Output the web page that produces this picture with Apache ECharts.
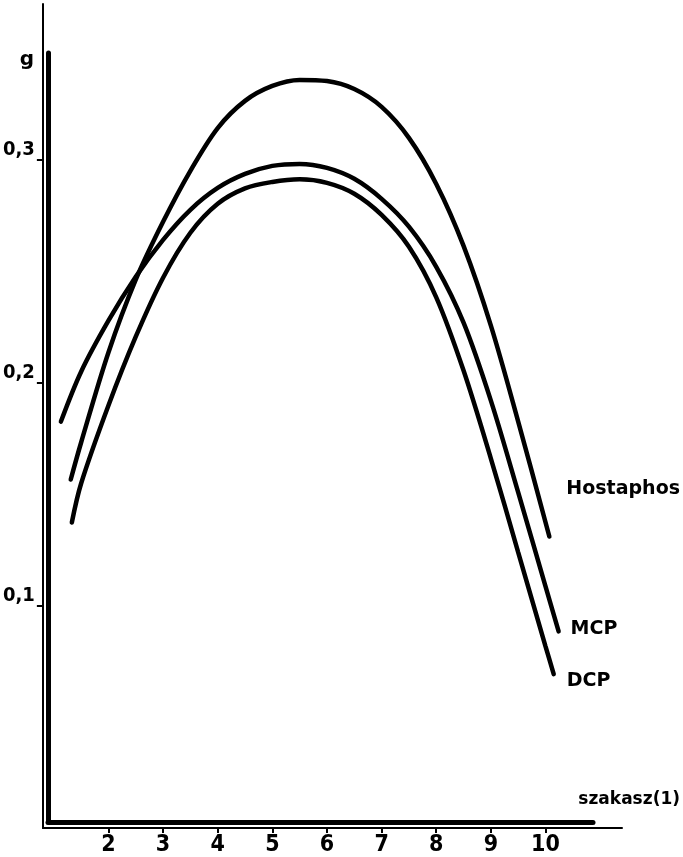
<!DOCTYPE html>
<html>
<head>
<meta charset="utf-8">
<script src="https://cdn.jsdelivr.net/npm/echarts@6/dist/echarts.min.js"></script>
<style>
  html, body { margin: 0; padding: 0; background: #fff; }
  #chart { width: 683px; height: 857px; }
</style>
</head>
<body>
<div id="chart"></div>
<script>
// ertekek a kepről leolvasva
const xTicks = [2, 3, 4, 5, 6, 7, 8, 9, 10];
const yTicks = [0.1, 0.2, 0.3];

const hostaphosX = [1.31, 1.5, 2, 2.5, 3, 3.5, 4, 4.5, 5, 5.5, 6, 6.5, 7, 7.5, 8, 8.5, 9, 9.5, 10.07];
const hostaphosY = [0.1565, 0.1731, 0.2135, 0.2462, 0.2722, 0.2951, 0.3143, 0.3265, 0.3332, 0.3359, 0.3354, 0.3318, 0.3238, 0.3099, 0.2892, 0.2614, 0.2256, 0.1825, 0.1309];

const mcpX = [1.13, 1.5, 2, 2.5, 3, 3.5, 4, 4.5, 5, 5.5, 6, 6.5, 7, 7.5, 8, 8.5, 9, 9.5, 10, 10.24];
const mcpY = [0.1825, 0.2049, 0.2278, 0.2475, 0.2641, 0.2776, 0.2874, 0.2937, 0.2973, 0.2982, 0.2964, 0.2915, 0.2825, 0.2700, 0.2520, 0.2269, 0.1919, 0.1507, 0.1085, 0.0883];

const dcpX = [1.33, 1.5, 2, 2.5, 3, 3.5, 4, 4.5, 5, 5.5, 6, 6.5, 7, 7.5, 8, 8.5, 9, 9.5, 10, 10.15];
const dcpY = [0.1372, 0.1547, 0.1897, 0.2206, 0.2471, 0.2673, 0.2803, 0.2872, 0.2901, 0.2913, 0.2897, 0.2848, 0.2753, 0.2610, 0.2383, 0.2054, 0.1659, 0.1238, 0.0816, 0.0691];

const labelFont = "'DejaVu Sans', sans-serif";
const digitFont = "'Liberation Sans Narrow', 'DejaVu Sans Condensed', 'DejaVu Sans', sans-serif";

function pairs(xs, ys) {
  return xs.map((x, i) => [x, ys[i]]);
}

function curve(name, xs, ys, offset) {
  return {
    name: name,
    type: 'line',
    xAxisIndex: 0,
    yAxisIndex: 0,
    data: pairs(xs, ys),
    smooth: 0.33,
    showSymbol: false,
    lineStyle: { color: '#000', width: 4.5, cap: 'round' },
    endLabel: {
      show: true,
      formatter: '{a}',
      color: '#000',
      fontFamily: labelFont,
      fontWeight: 'bold',
      fontSize: 19,
      offset: offset
    }
  };
}

const chart = echarts.init(document.getElementById('chart'));

chart.setOption({
  animation: false,
  backgroundColor: '#fff',
  grid: [
    // vekony tengelyek
    { left: 40, right: 61, top: 4, bottom: 28 },
    // vastag belso L
    { left: 48, right: 90, top: 53, bottom: 35 }
  ],
  xAxis: [
    {
      type: 'value',
      gridIndex: 0,
      min: 0.8,
      max: 11.4,
      splitLine: { show: false },
      axisLine: { lineStyle: { color: '#000', width: 2 } },
      axisTick: { customValues: xTicks, length: 5, lineStyle: { color: '#000', width: 2 } },
      axisLabel: {
        customValues: xTicks,
        margin: 6,
        color: '#000',
        fontFamily: digitFont,
        fontWeight: 'bold',
        fontSize: 23
      }
    },
    {
      type: 'value',
      gridIndex: 1,
      min: 0,
      max: 1,
      name: 'szakasz(1)',
      nameLocation: 'end',
      nameGap: 87,
      nameTextStyle: {
        align: 'right',
        verticalAlign: 'bottom',
        padding: [0, 0, 14, 0],
        color: '#000',
        fontFamily: labelFont,
        fontWeight: 'bold',
        fontSize: 17
      },
      splitLine: { show: false },
      axisLine: { lineStyle: { color: '#000', width: 5 } },
      axisTick: { show: false },
      axisLabel: { show: false }
    }
  ],
  yAxis: [
    {
      type: 'value',
      gridIndex: 0,
      min: 0,
      max: 0.37,
      splitLine: { show: false },
      axisLine: { lineStyle: { color: '#000', width: 2 } },
      axisTick: { customValues: yTicks, length: 6, lineStyle: { color: '#000', width: 2 } },
      axisLabel: {
        customValues: yTicks,
        margin: 8,
        verticalAlign: 'bottom',
        color: '#000',
        fontFamily: digitFont,
        fontWeight: 'bold',
        fontSize: 20,
        formatter: v => String(v).replace('.', ',')
      }
    },
    {
      type: 'value',
      gridIndex: 1,
      min: 0,
      max: 1,
      name: 'g',
      nameLocation: 'end',
      nameGap: -7,
      nameTextStyle: {
        align: 'right',
        verticalAlign: 'middle',
        padding: [0, 14, 0, 0],
        color: '#000',
        fontFamily: labelFont,
        fontWeight: 'bold',
        fontSize: 20
      },
      splitLine: { show: false },
      axisLine: { lineStyle: { color: '#000', width: 5 } },
      axisTick: { show: false },
      axisLabel: { show: false }
    }
  ],
  series: [
    curve('Hostaphos', hostaphosX, hostaphosY, [9, -47]),
    curve('MCP', mcpX, mcpY, [4, -2]),
    curve('DCP', dcpX, dcpY, [5, 7])
  ]
});
</script>
</body>
</html>
